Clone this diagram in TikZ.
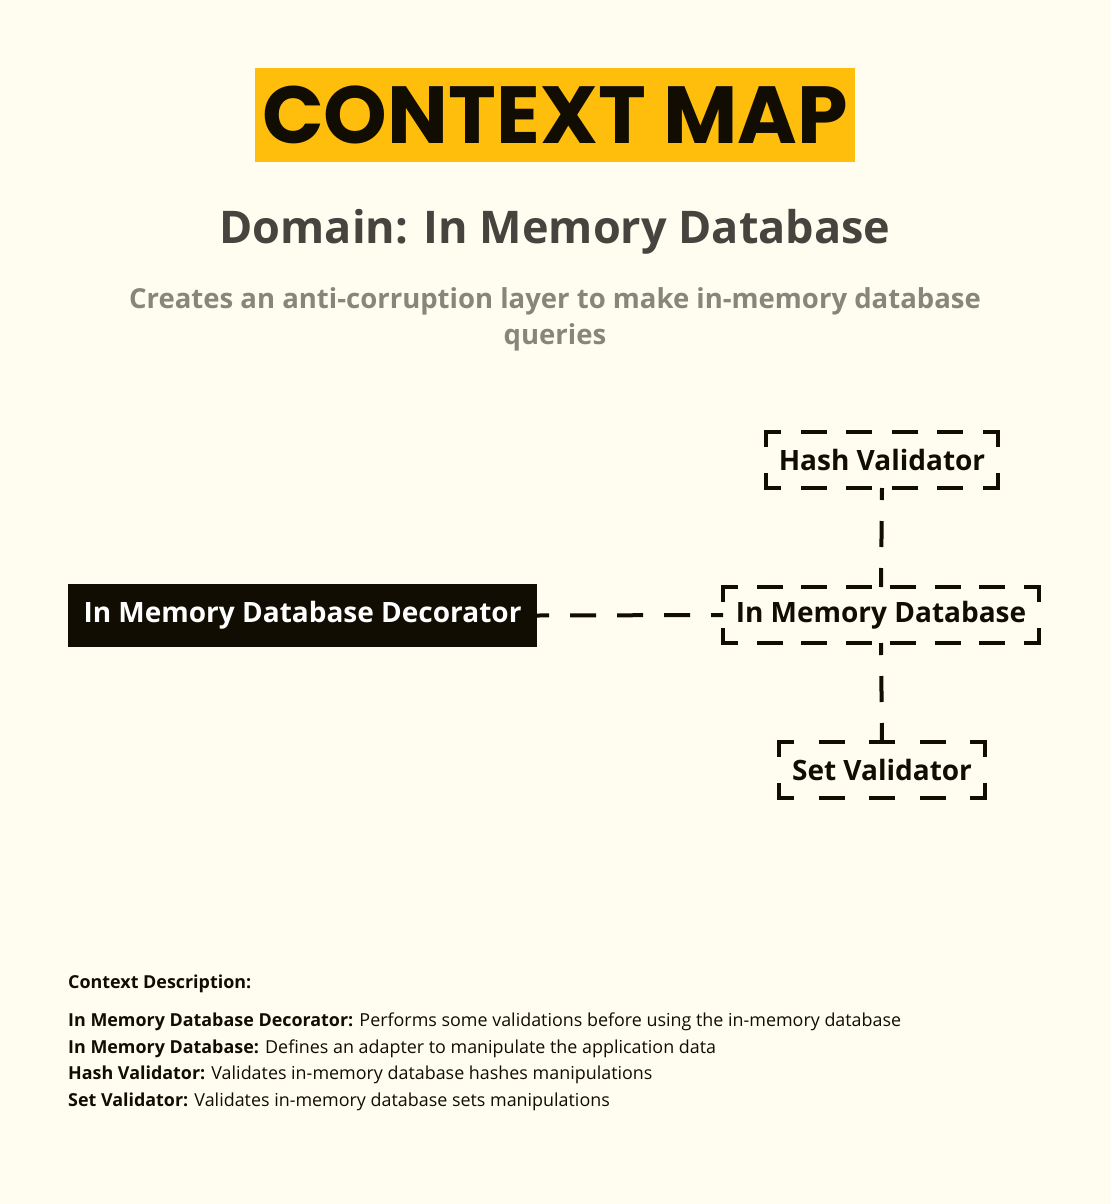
\documentclass[tikz,border=0pt]{standalone}
\usepackage{fontspec}
\setmainfont{Open Sans}
\newfontfamily\titlefont{Poppins}
\definecolor{cmPaper}{HTML}{FFFCF0}
\definecolor{cmYellow}{HTML}{FFBE0B}
\definecolor{cmInk}{HTML}{110D03}
\definecolor{cmHeading}{HTML}{46443E}
\definecolor{cmMuted}{HTML}{88857B}
\usetikzlibrary{positioning}

\tikzset{
  ctxbox/.style={minimum height=56pt, inner sep=0pt, outer sep=0pt, text=cmInk,
    font=\fontsize{28}{32}\selectfont\bfseries},
  ctxcore/.style={fill=cmInk, minimum height=63pt, inner sep=0pt, outer sep=0pt, text=white,
    font=\fontsize{28}{32}\selectfont\bfseries},
  ctxedge/.style={draw=cmInk, line width=4pt, line cap=rect, dash phase=9pt},
  ctxlink/.style={draw=cmInk, line width=4pt, dash pattern=on 26pt off 21pt, dash phase=14pt},
  desc/.style={anchor=north west, align=left, inner sep=0pt, text=cmInk,
    font=\fontsize{17.9}{26.7}\selectfont}
}

% dashed frame with corner brackets: node, gap on long sides, gap on short sides
\newcommand\ctxframe[3]{%
  \draw[ctxedge, dash pattern=on 22pt off #2] (#1.north west) -- (#1.north east);
  \draw[ctxedge, dash pattern=on 22pt off #2] (#1.south west) -- (#1.south east);
  \draw[ctxedge, dash pattern=on 22pt off #3] (#1.north west) -- (#1.south west);
  \draw[ctxedge, dash pattern=on 22pt off #3] (#1.north east) -- (#1.south east);
}

\begin{document}
\begin{tikzpicture}[x=1pt, y=-1pt]
  % Page
  \fill[cmPaper] (0,0) rectangle (1111,1204);
  \useasboundingbox (0,0) rectangle (1111,1204);

  % Title
  \node[fill=cmYellow, minimum width=600pt, minimum height=94pt, inner sep=0pt,
        text=cmInk, font=\titlefont\fontsize{81}{86}\selectfont\bfseries] (title) at (555,115) {CONTEXT MAP};
  \node[text=cmHeading, font=\fontsize{45}{54}\selectfont\bfseries] (domain) at (555,232) {Domain: In Memory Database};
  \node[text=cmMuted, align=center, font=\fontsize{27.5}{36}\selectfont\bfseries] (purpose) at (555,319)
    {Creates an anti-corruption layer to make in-memory database\\queries};

  % Contexts
  \node[ctxcore, minimum width=469pt] (decorator) at (302.5,615.5) {In Memory Database Decorator};
  \node[ctxbox, minimum width=316pt] (database) at (881,615) {In Memory Database};
  \node[ctxbox, minimum width=232pt] (hash) at (882,460) {Hash Validator};
  \node[ctxbox, minimum width=206pt] (set) at (882,770) {Set Validator};
  \ctxframe{database}{22.57pt}{30pt}
  \ctxframe{hash}{23.6pt}{30pt}
  \ctxframe{set}{28.5pt}{30pt}

  % Relations
  \draw[ctxlink] (decorator.east) -- (database.west);
  \draw[ctxlink] (hash.south) -- (database.north);
  \draw[ctxlink] (database.south) -- (set.north);

  % Description
  \node[desc, font=\fontsize{17.9}{20}\selectfont\bfseries] (deschead) at (68,975) {Context Description:};
  \node[desc] (desclist) at (68,1012.5) {%
    \textbf{In Memory Database Decorator:} Performs some validations before using the in-memory database\\
    \textbf{In Memory Database:} Defines an adapter to manipulate the application data\\
    \textbf{Hash Validator:} Validates in-memory database hashes manipulations\\
    \textbf{Set Validator:} Validates in-memory database sets manipulations};
\end{tikzpicture}
\end{document}
